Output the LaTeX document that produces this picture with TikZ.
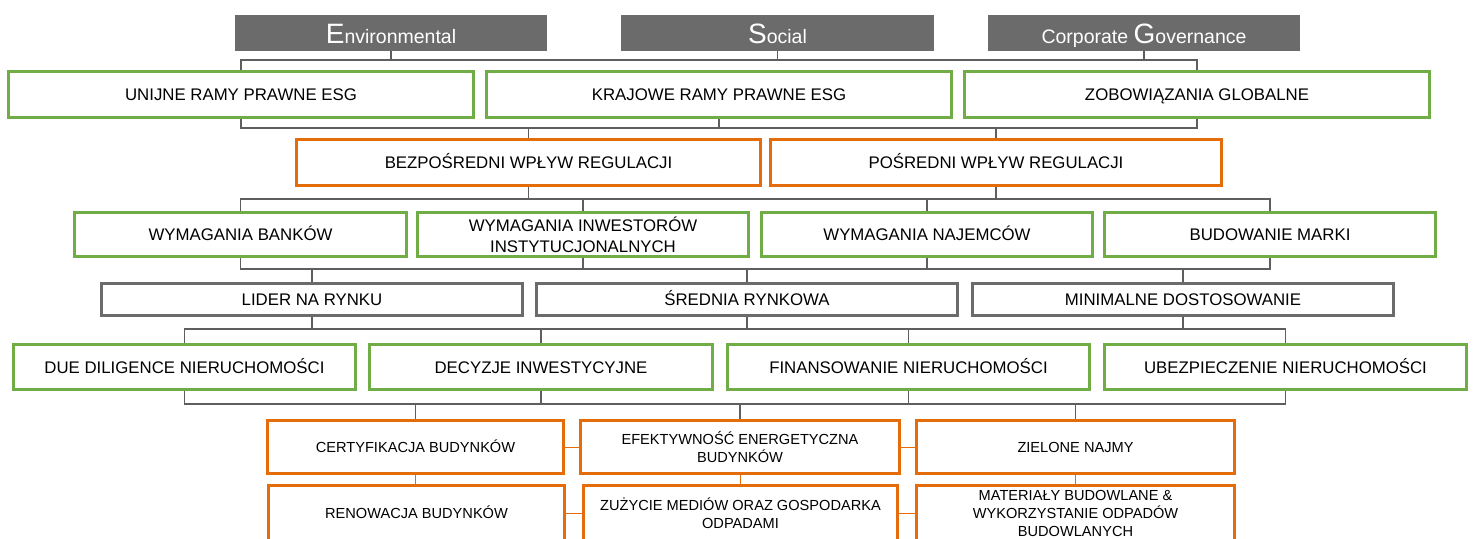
\documentclass[tikz,border=0pt]{standalone}
\usepackage{fontspec}
\setmainfont{Liberation Sans}
\definecolor{grn}{HTML}{70AD47}
\definecolor{org}{HTML}{E46C0A}
\definecolor{gry}{HTML}{6B6B6B}
\definecolor{lin}{HTML}{5E5E5E}
\begin{document}
\begin{tikzpicture}[x=1pt,y=-1pt,
  box/.style={draw, line width=3pt, fill=white, inner sep=1pt, align=center, text=black, font={\fontsize{16.8}{21}\selectfont}},
  one/.style={text height=12pt, text depth=0pt},
  gbox/.style={box, draw=grn},
  obox/.style={box, draw=org},
  kbox/.style={box, draw=gry},
  sbox/.style={obox, font={\fontsize{14.6}{18}\selectfont}},
  sone/.style={text height=10.5pt, text depth=0pt},
  hdr/.style={fill=gry, inner sep=0pt, text=white, minimum height=36pt, text height=20pt, text depth=0pt, font={\fontsize{19.5}{20}\selectfont}},
  conn/.style={draw=lin, line width=1.2pt},
  oconn/.style={draw=org, line width=1pt},
]
\useasboundingbox (0,0) rectangle (1474,538);
% headers
\node[hdr, minimum width=312pt] (E) at (391,33) {{\fontsize{28}{28}\selectfont E}nvironmental};
\node[hdr, minimum width=313pt] (S) at (777.5,33) {{\fontsize{28}{28}\selectfont S}ocial};
\node[hdr, minimum width=312pt] (G) at (1144,33) {Corporate {\fontsize{28}{28}\selectfont G}overnance};
% row 1
\node[gbox, one, minimum width=465pt, minimum height=46pt] (U) at (241,94.5) {UNIJNE RAMY PRAWNE ESG};
\node[gbox, one, minimum width=465pt, minimum height=46pt] (K) at (719,94.5) {KRAJOWE RAMY PRAWNE ESG};
\node[gbox, one, minimum width=465pt, minimum height=46pt] (Z) at (1197,94.5) {ZOBOWIĄZANIA GLOBALNE};
% row 2
\node[obox, one, minimum width=464pt, minimum height=46pt] (BP) at (528.5,162.5) {BEZPOŚREDNI WPŁYW REGULACJI};
\node[obox, one, minimum width=451pt, minimum height=46pt] (PP) at (996,162.5) {POŚREDNI WPŁYW REGULACJI};
% row 3
\node[gbox, one, minimum width=332pt, minimum height=44pt] (WB) at (240.5,234.5) {WYMAGANIA BANKÓW};
\node[gbox, minimum width=331pt, minimum height=44pt] (WI) at (583,234.5) {WYMAGANIA INWESTORÓW\\INSTYTUCJONALNYCH};
\node[gbox, one, minimum width=331pt, minimum height=44pt] (WN) at (927,234.5) {WYMAGANIA NAJEMCÓW};
\node[gbox, one, minimum width=331pt, minimum height=44pt] (BM) at (1270,234.5) {BUDOWANIE MARKI};
% row 4
\node[kbox, one, minimum width=421pt, minimum height=32pt] (LR) at (312,299.5) {LIDER NA RYNKU};
\node[kbox, one, minimum width=421pt, minimum height=32pt] (SR) at (747,299.5) {ŚREDNIA RYNKOWA};
\node[kbox, one, minimum width=421pt, minimum height=32pt] (MD) at (1183,299.5) {MINIMALNE DOSTOSOWANIE};
% row 5
\node[gbox, one, minimum width=342pt, minimum height=45pt] (DD) at (184.5,367) {DUE DILIGENCE NIERUCHOMOŚCI};
\node[gbox, one, minimum width=343pt, minimum height=45pt] (DI) at (541,367) {DECYZJE INWESTYCYJNE};
\node[gbox, one, minimum width=362pt, minimum height=45pt] (FN) at (908.5,367) {FINANSOWANIE NIERUCHOMOŚCI};
\node[gbox, one, minimum width=362pt, minimum height=45pt] (UN) at (1285.5,367) {UBEZPIECZENIE NIERUCHOMOŚCI};
% row 6
\node[sbox, sone, minimum width=296pt, minimum height=53pt] (CB) at (415.5,447) {CERTYFIKACJA BUDYNKÓW};
\node[sbox, minimum width=319pt, minimum height=53pt] (EE) at (740,447) {EFEKTYWNOŚĆ ENERGETYCZNA\\BUDYNKÓW};
\node[sbox, sone, minimum width=318pt, minimum height=53pt] (ZN) at (1075.5,447) {ZIELONE NAJMY};
% row 7 (cut by the lower edge)
\node[sbox, sone, minimum width=296pt, minimum height=56pt] (RB) at (416.5,513.5) {RENOWACJA BUDYNKÓW};
\node[sbox, minimum width=314pt, minimum height=56pt] (ZM) at (740.5,513.5) {ZUŻYCIE MEDIÓW ORAZ GOSPODARKA\\ODPADAMI};
\node[sbox, minimum width=318pt, minimum height=56pt] (MB) at (1075.5,513.5) {MATERIAŁY BUDOWLANE \&\\WYKORZYSTANIE ODPADÓW\\BUDOWLANYCH};
% bus levels
\coordinate (b1) at (0,60);
\coordinate (b2) at (0,128);
\coordinate (b3) at (0,199);
\coordinate (b4) at (0,269);
\coordinate (b5) at (0,329);
\coordinate (b6) at (0,404);
% level 1
\draw[conn] (U.north) |- (Z.north |- b1) -- (Z.north);
\foreach \n in {E,S,G} \draw[conn] (\n.south) -- (\n.south |- b1);
% level 2
\draw[conn] (U.south) |- (Z.south |- b2) -- (Z.south);
\draw[conn] (K.south) -- (K.south |- b2);
\foreach \n in {BP,PP} \draw[conn] (\n.north) -- (\n.north |- b2);
% level 3
\draw[conn] (WB.north) |- (BM.north |- b3) -- (BM.north);
\foreach \n in {BP,PP} \draw[conn] (\n.south) -- (\n.south |- b3);
\foreach \n in {WI,WN} \draw[conn] (\n.north) -- (\n.north |- b3);
% level 4
\draw[conn] (WB.south) |- (BM.south |- b4) -- (BM.south);
\foreach \n in {WI,WN} \draw[conn] (\n.south) -- (\n.south |- b4);
\foreach \n in {LR,SR,MD} \draw[conn] (\n.north) -- (\n.north |- b4);
% level 5
\draw[conn] (DD.north) |- (UN.north |- b5) -- (UN.north);
\foreach \n in {LR,SR,MD} \draw[conn] (\n.south) -- (\n.south |- b5);
\foreach \n in {DI,FN} \draw[conn] (\n.north) -- (\n.north |- b5);
% level 6
\draw[conn] (DD.south) |- (UN.south |- b6) -- (UN.south);
\foreach \n in {DI,FN} \draw[conn] (\n.south) -- (\n.south |- b6);
\foreach \n in {CB,EE,ZN} \draw[conn] (\n.north) -- (\n.north |- b6);
% orange links
\draw[oconn] (CB.south) -- (CB.south |- RB.north);
\draw[oconn] (EE.south) -- (EE.south |- ZM.north);
\draw[oconn] (ZN.south) -- (ZN.south |- MB.north);
\draw[oconn] (CB.east) -- (EE.west);
\draw[oconn] (EE.east) -- (ZN.west);
\draw[oconn] (RB.east |- ZM.west) -- (ZM.west);
\draw[oconn] (ZM.east) -- (MB.west);
\end{tikzpicture}
\end{document}
